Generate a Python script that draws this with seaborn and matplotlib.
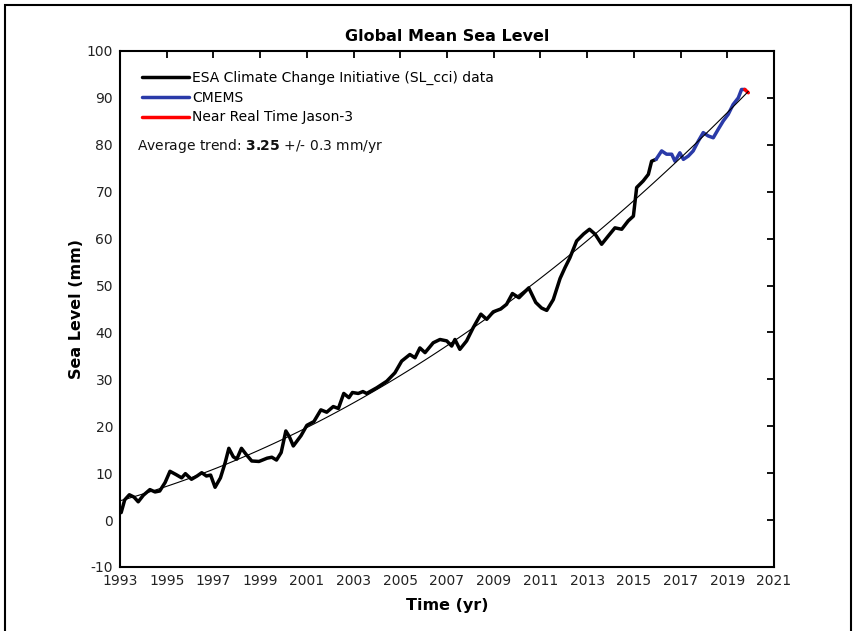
import matplotlib
matplotlib.use("Agg")
import matplotlib.pyplot as plt
import numpy as np
import pandas as pd
import seaborn as sns
from matplotlib.patches import Rectangle

# ESA Climate Change Initiative (SL_cci) global mean sea level, mm
esa_years = [1993.05, 1993.2, 1993.4, 1993.6, 1993.78, 1994.0, 1994.28, 1994.5, 1994.7, 1994.93,
             1995.14, 1995.4, 1995.64, 1995.8, 1996.06, 1996.3, 1996.5, 1996.7, 1996.88, 1997.07,
             1997.3, 1997.5, 1997.66, 1997.85, 1998.0, 1998.2, 1998.4, 1998.64, 1998.95, 1999.3,
             1999.5, 1999.7, 1999.9, 2000.1, 2000.25, 2000.42, 2000.75, 2001.0, 2001.3, 2001.6,
             2001.85, 2002.13, 2002.35, 2002.58, 2002.8, 2002.95, 2003.2, 2003.4, 2003.56, 2003.99,
             2004.42, 2004.77, 2005.06, 2005.41, 2005.63, 2005.84, 2006.06, 2006.41, 2006.7, 2006.99,
             2007.2, 2007.34, 2007.55, 2007.84, 2008.12, 2008.45, 2008.7, 2008.98, 2009.3, 2009.55,
             2009.8, 2010.08, 2010.5, 2010.8, 2011.05, 2011.27, 2011.55, 2011.84, 2012.05, 2012.26,
             2012.55, 2012.85, 2013.1, 2013.35, 2013.62, 2013.91, 2014.19, 2014.48, 2014.76, 2014.98,
             2015.12, 2015.4, 2015.62, 2015.76, 2015.95]
esa_mm = [1.6, 4.3, 5.4, 4.9, 3.9, 5.3, 6.5, 6.0, 6.2, 8.0,
          10.4, 9.7, 9.0, 9.9, 8.7, 9.4, 10.1, 9.4, 9.6, 7.0,
          9.0, 12.2, 15.3, 13.5, 13.0, 15.3, 14.0, 12.6, 12.5, 13.2,
          13.4, 12.8, 14.4, 19.0, 17.8, 15.8, 18.0, 20.2, 21.0, 23.5,
          23.0, 24.2, 23.8, 27.0, 26.1, 27.2, 27.0, 27.4, 27.0, 28.2,
          29.6, 31.4, 33.9, 35.3, 34.6, 36.7, 35.7, 37.8, 38.5, 38.2,
          37.1, 38.5, 36.4, 38.2, 41.0, 43.9, 42.8, 44.4, 45.0, 46.0,
          48.3, 47.4, 49.5, 46.4, 45.2, 44.7, 47.0, 51.5, 53.8, 55.9,
          59.5, 61.0, 62.0, 60.9, 58.8, 60.6, 62.3, 62.0, 63.8, 64.8,
          70.9, 72.3, 73.7, 76.5, 76.9]

# CMEMS continuation
cmems_years = [2015.95, 2016.19, 2016.4, 2016.62, 2016.76, 2016.97, 2017.12, 2017.33, 2017.54,
               2017.76, 2017.97, 2018.18, 2018.4, 2018.61, 2018.83, 2019.04, 2019.25, 2019.47,
               2019.61, 2019.75]
cmems_mm = [76.9, 78.7, 78.0, 78.0, 76.5, 78.3, 76.9, 77.6, 78.7,
            80.8, 82.6, 81.9, 81.5, 83.3, 85.1, 86.5, 88.6, 90.0,
            91.8, 91.8]

# Near real time Jason-3
nrt_years = [2019.75, 2019.9]
nrt_mm = [91.8, 91.1]

x_ticks = list(range(1993, 2022, 2))
y_ticks = list(range(-10, 101, 10))

sns.set_theme(style="white")
plt.rcParams["font.family"] = ["DejaVu Sans"]
plt.rcParams["mathtext.fontset"] = "dejavusans"
plt.rcParams["axes.unicode_minus"] = False
plt.rcParams["text.color"] = "black"
plt.rcParams["axes.labelcolor"] = "black"

esa = pd.DataFrame({"year": esa_years, "mm": esa_mm})
cmems = pd.DataFrame({"year": cmems_years, "mm": cmems_mm})
nrt = pd.DataFrame({"year": nrt_years, "mm": nrt_mm})
all_series = pd.concat([esa, cmems.iloc[1:], nrt.iloc[1:]], ignore_index=True)

fig = plt.figure(figsize=(8.59, 6.31), dpi=100)
ax = fig.add_axes([120 / 859, 1 - 567 / 631, 654 / 859, 516 / 631])

sns.lineplot(data=esa, x="year", y="mm", sort=False, color="black", lw=2.5, ax=ax,
             label="ESA Climate Change Initiative (SL_cci) data")
sns.lineplot(data=cmems, x="year", y="mm", sort=False, color="#2a3aa8", lw=2.5, ax=ax,
             label="CMEMS")
sns.lineplot(data=nrt, x="year", y="mm", sort=False, color="#ff0000", lw=2.5, ax=ax,
             label="Near Real Time Jason-3")
# quadratic trend through the full record
sns.regplot(data=all_series, x="year", y="mm", order=2, ci=None, scatter=False, ax=ax,
            line_kws=dict(color="black", lw=0.8, zorder=5))

ax.set_xlim(1993, 2021)
ax.set_ylim(-10, 100)
ax.set_xticks(x_ticks)
ax.set_yticks(y_ticks)
ax.tick_params(direction="in", top=True, right=True, length=5, width=1.3,
               colors="black", labelcolor="#222222", labelsize=10, pad=5)
for s in ax.spines.values():
    s.set_linewidth(1.5)
    s.set_color("black")

ax.set_title("Global Mean Sea Level", fontsize=11.5, fontweight="bold", pad=7, color="black")
ax.set_xlabel("Time (yr)", fontsize=11.5, fontweight="bold", labelpad=7)
ax.set_ylabel("Sea Level (mm)", fontsize=11.5, fontweight="bold", labelpad=2)

ax.legend(loc="upper left", bbox_to_anchor=(0.033, 0.962), frameon=False, fontsize=10,
          handlelength=3.4, handletextpad=0.25, labelspacing=0.42, borderpad=0,
          borderaxespad=0)
ax.text(0.026, 0.816, r"Average trend: $\mathbf{3.25}$ +/- 0.3 mm/yr", transform=ax.transAxes,
        fontsize=10, va="center", ha="left", color="#111111")

# frame around the whole figure
fig.patches.append(Rectangle((5 / 859, -0.02), (851 - 5) / 859, 1 - 5 / 631 + 0.02,
                             transform=fig.transFigure, fill=False, lw=1.5, ec="black"))

fig.savefig("out.png", dpi=100)
